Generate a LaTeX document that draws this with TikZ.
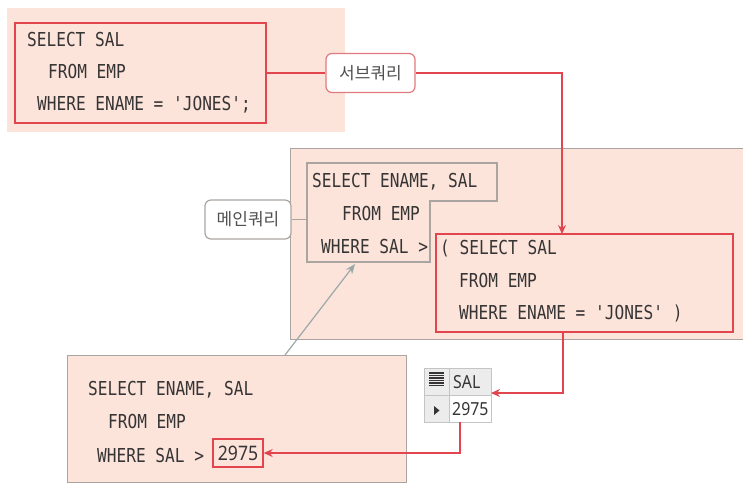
\documentclass[tikz,border=0pt]{standalone}
\usepackage{fontspec}
\setmonofont{DejaVu Sans Mono}[FakeStretch=0.84]
\setsansfont{Noto Sans}
\newfontfamily\krfont{Noto Sans CJK KR}
\newfontfamily\cellfont{Noto Sans}[FakeStretch=0.88]
\usetikzlibrary{arrows.meta}
\definecolor{bgpink}{HTML}{FCE4DB}
\definecolor{qred}{HTML}{E2454E}
\definecolor{lblred}{HTML}{E07A7E}
\definecolor{qgray}{HTML}{ABA5A2}
\definecolor{txt}{HTML}{363434}
\definecolor{lbltxt}{HTML}{505050}
\definecolor{arrgray}{HTML}{9CA8A8}
\definecolor{cellgray}{HTML}{ECECEC}
\definecolor{cellline}{HTML}{C4C4C4}
\tikzset{
  code/.style={anchor=west, inner sep=0pt, text height=14pt, text depth=0pt,
    font=\ttfamily\fontsize{19.2}{20}\selectfont, text=txt},
  area/.style={anchor=north west, inner sep=0pt, outer sep=0pt, fill=bgpink},
  framedarea/.style={area, draw=qgray, line width=1pt},
  redframe/.style={anchor=north west, inner sep=0pt, outer sep=0pt, draw=qred, line width=1.4pt},
  tag/.style={rounded corners=6pt, fill=white, inner sep=0pt, line width=1.2pt,
    minimum height=39pt, font=\krfont\fontsize{17}{18}\selectfont, text=lbltxt},
  redline/.style={draw=qred, line width=1.3pt},
  redarrow/.style={redline, -{Stealth[length=9pt, width=8pt]}},
  grayarrow/.style={draw=arrgray, line width=1.2pt, -{Stealth[length=10pt, width=8pt]}},
  cell/.style={anchor=north west, inner sep=0pt, outer sep=0pt, draw=cellline, line width=0.8pt},
  celltext/.style={anchor=west, inner sep=0pt, text height=13pt, text depth=0pt,
    font=\cellfont\fontsize{18}{19}\selectfont, text=txt},
}
\begin{document}
\begin{tikzpicture}[x=1pt, y=-1pt]
\useasboundingbox (0,0) rectangle (743,488);
% ---------- top: subquery ----------
\node[area, minimum width=338pt, minimum height=124pt] (topbg) at (7,8) {};
\node[redframe, minimum width=251pt, minimum height=100pt] (subA) at (15,23) {};
\node[code] (a1) at (27,39) {SELECT SAL};
\node[code] (a2) at (48,71) {FROM EMP};
\node[code] (a3) at (37,103) {WHERE ENAME = 'JONES';};
\node[tag, draw=lblred, minimum width=89pt] (lblsub) at (370.5,73) {서브쿼리};
\coordinate (c1) at (562,73);
% ---------- middle: main query ----------
\node[framedarea, minimum width=460pt, minimum height=191pt] (midbg) at (290,148) {};
\coordinate (m1) at (307,163);
\coordinate (m2) at (497,163);
\coordinate (m3) at (497,201);
\coordinate (m4) at (430,201);
\coordinate (m5) at (430,262);
\coordinate (m6) at (307,262);
\draw[qgray, line width=1.2pt] (m1) -- (m2) -- (m3) -- (m4) -- (m5) -- (m6) -- cycle;
\node[code] (b1) at (312,180) {SELECT ENAME, SAL};
\node[code] (b2) at (342,213) {FROM EMP};
\node[code] (b3) at (321,246) {WHERE SAL >};
\node[redframe, minimum width=297pt, minimum height=98pt] (subB) at (436,234) {};
\node[code] (s1) at (440,247) {( SELECT SAL};
\node[code] (s2) at (459,280) {FROM EMP};
\node[code] (s3) at (459,312) {WHERE ENAME = 'JONES' )};
\node[tag, draw=qgray, minimum width=86pt] (lblmain) at (248,219.5) {메인쿼리};
% ---------- result table ----------
\node[cell, fill=cellgray, minimum width=25pt, minimum height=27pt] (ticon) at (424,368) {};
\node[cell, fill=cellgray, minimum width=42pt, minimum height=27pt] (thead) at (449,368) {};
\node[cell, fill=cellgray, minimum width=25pt, minimum height=27pt] (tmark) at (424,395) {};
\node[cell, fill=white, minimum width=42pt, minimum height=27pt] (tval) at (449,395) {};
\node[celltext] (tsal) at (453,381.5) {SAL};
\node[celltext] (tnum) at (452,408.5) {2975};
\foreach \yy in {373,375.5,378,380.5,383,385.5}
  \draw[txt, line width=1.1pt] (429,\yy) -- (444,\yy);
\fill[txt] (434,406) -- (439.5,410.5) -- (434,415) -- cycle;
% ---------- bottom: resolved query ----------
\node[framedarea, minimum width=339pt, minimum height=127pt] (botbg) at (67,355) {};
\node[code] (d1) at (88,388) {SELECT ENAME, SAL};
\node[code] (d2) at (108,421) {FROM EMP};
\node[code] (d3) at (97,455) {WHERE SAL >};
\node[draw=qred, line width=1.4pt, minimum width=50pt, minimum height=28pt, inner sep=0pt,
  font=\cellfont\fontsize{20}{21}\selectfont, text=txt] (val) at (238,453) {2975};
\coordinate (c2) at (563,393);
\coordinate (c3) at (460,453);
\coordinate (gs) at (285,355);
\coordinate (ge) at (355,264);
% ---------- connectors ----------
\draw[redline] (subA.east) -- (lblsub.west);
\draw[redarrow] (lblsub.east) -- (c1) -- (c1 |- subB.north);
\draw[qgray, line width=1pt] (lblmain.east) -- (lblmain.east -| m1);
\draw[redarrow] (subB.south -| c2) -- (c2) -- (c2 -| thead.east);
\draw[redarrow] (tval.south -| c3) -- (c3) -- (val.east);
\draw[grayarrow] (gs) -- (ge);
\end{tikzpicture}
\end{document}
